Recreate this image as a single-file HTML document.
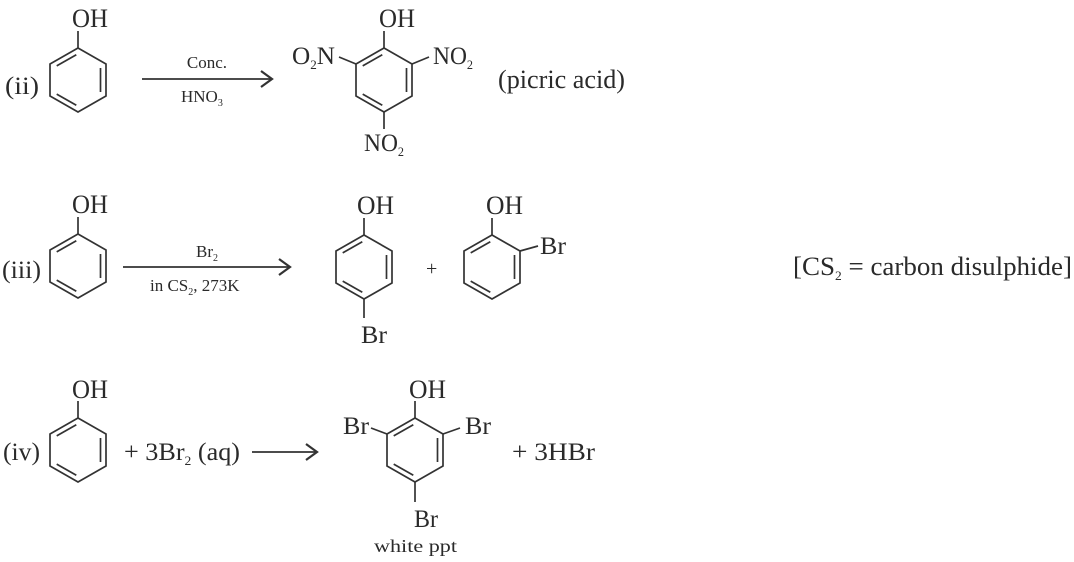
<!DOCTYPE html>
<html><head><meta charset="utf-8"><style>
html,body{margin:0;padding:0;background:#fff;}
svg{display:block;}
text{font-family:"Liberation Serif",serif;fill:#2a2a2a;}
</style></head><body>
<svg width="1074" height="562" viewBox="0 0 1074 562" xmlns="http://www.w3.org/2000/svg">
<defs>
<g id="ring" fill="none" stroke="#333" stroke-width="1.7">
<polygon points="0,-32 28,-16 28,16 0,32 -28,16 -28,-16"/>
<line x1="-1.7" y1="-25.3" x2="-21.3" y2="-14.1"/>
<line x1="22.5" y1="-12" x2="22.5" y2="12"/>
<line x1="-1.7" y1="25.3" x2="-21.3" y2="14.1"/>
</g>
</defs>
<g stroke="#333" stroke-width="1.7" fill="none">
<line x1="78" y1="48" x2="78" y2="31"/>
<line x1="142" y1="79" x2="272" y2="79"/>
<polyline points="261,71 272,79 261,87" stroke-width="2.2"/>
<line x1="384" y1="48" x2="384" y2="31"/>
<line x1="356" y1="64" x2="339" y2="57"/>
<line x1="412" y1="64" x2="429" y2="57"/>
<line x1="384" y1="112" x2="384" y2="129"/>
<line x1="78" y1="234" x2="78" y2="217"/>
<line x1="123" y1="267" x2="290" y2="267"/>
<polyline points="279,259 290,267 279,275" stroke-width="2.2"/>
<line x1="364" y1="235" x2="364" y2="218"/>
<line x1="364" y1="299" x2="364" y2="318"/>
<line x1="492" y1="235" x2="492" y2="218"/>
<line x1="520" y1="251" x2="538" y2="246"/>
<line x1="78" y1="418" x2="78" y2="401"/>
<line x1="252" y1="452" x2="317" y2="452"/>
<polyline points="306,444 317,452 306,460" stroke-width="2.2"/>
<line x1="415" y1="418" x2="415" y2="401"/>
<line x1="387" y1="434" x2="371" y2="428"/>
<line x1="443" y1="434" x2="460" y2="428"/>
<line x1="415" y1="482" x2="415" y2="502"/>
</g>
<use href="#ring" x="78" y="80"/>
<use href="#ring" x="384" y="80"/>
<use href="#ring" x="78" y="266"/>
<use href="#ring" x="364" y="267"/>
<use href="#ring" x="492" y="267"/>
<use href="#ring" x="78" y="450"/>
<use href="#ring" x="415" y="450"/>

<text x="72" y="27" font-size="26" textLength="36" lengthAdjust="spacingAndGlyphs">OH</text>
<text x="5" y="94" font-size="25" textLength="34" lengthAdjust="spacingAndGlyphs">(ii)</text>
<text x="207" y="68" font-size="17" text-anchor="middle">Conc.</text>
<text x="181" y="102" font-size="17">HNO<tspan font-size="10" dy="4">3</tspan></text>
<text x="379" y="27" font-size="26" textLength="36" lengthAdjust="spacingAndGlyphs">OH</text>
<text x="292" y="64" font-size="25" textLength="43" lengthAdjust="spacingAndGlyphs">O<tspan font-size="13" dy="5">2</tspan><tspan dy="-5">N</tspan></text>
<text x="433" y="64" font-size="25" textLength="40" lengthAdjust="spacingAndGlyphs">NO<tspan font-size="13" dy="5">2</tspan></text>
<text x="364" y="151" font-size="25" textLength="40" lengthAdjust="spacingAndGlyphs">NO<tspan font-size="13" dy="5">2</tspan></text>
<text x="498" y="88" font-size="26" textLength="127" lengthAdjust="spacingAndGlyphs">(picric acid)</text>

<text x="72" y="213" font-size="26" textLength="36" lengthAdjust="spacingAndGlyphs">OH</text>
<text x="2" y="278" font-size="25" textLength="39" lengthAdjust="spacingAndGlyphs">(iii)</text>
<text x="196" y="257" font-size="17">Br<tspan font-size="10" dy="4">2</tspan></text>
<text x="150" y="291" font-size="17">in CS<tspan font-size="10" dy="4">2</tspan><tspan dy="-4">, 273K</tspan></text>
<text x="357" y="214" font-size="26" textLength="37" lengthAdjust="spacingAndGlyphs">OH</text>
<text x="361" y="343" font-size="25" textLength="26" lengthAdjust="spacingAndGlyphs">Br</text>
<text x="426" y="275" font-size="20">+</text>
<text x="486" y="214" font-size="26" textLength="37" lengthAdjust="spacingAndGlyphs">OH</text>
<text x="540" y="254" font-size="25" textLength="26" lengthAdjust="spacingAndGlyphs">Br</text>
<text x="793" y="275" font-size="26" textLength="279" lengthAdjust="spacingAndGlyphs">[CS<tspan font-size="13" dy="5">2</tspan><tspan dy="-5"> = carbon disulphide]</tspan></text>

<text x="72" y="398" font-size="26" textLength="36" lengthAdjust="spacingAndGlyphs">OH</text>
<text x="3" y="460" font-size="25" textLength="37" lengthAdjust="spacingAndGlyphs">(iv)</text>
<text x="124" y="460" font-size="25" textLength="116" lengthAdjust="spacingAndGlyphs">+ 3Br<tspan font-size="13" dy="5">2</tspan><tspan dy="-5"> (aq)</tspan></text>
<text x="409" y="398" font-size="26" textLength="37" lengthAdjust="spacingAndGlyphs">OH</text>
<text x="343" y="434" font-size="25" textLength="26" lengthAdjust="spacingAndGlyphs">Br</text>
<text x="465" y="434" font-size="25" textLength="26" lengthAdjust="spacingAndGlyphs">Br</text>
<text x="414" y="527" font-size="25" textLength="24" lengthAdjust="spacingAndGlyphs">Br</text>
<text x="374" y="552" font-size="18" textLength="83" lengthAdjust="spacingAndGlyphs">white ppt</text>
<text x="512" y="460" font-size="25" textLength="83" lengthAdjust="spacingAndGlyphs">+ 3HBr</text>
</svg>
</body></html>
